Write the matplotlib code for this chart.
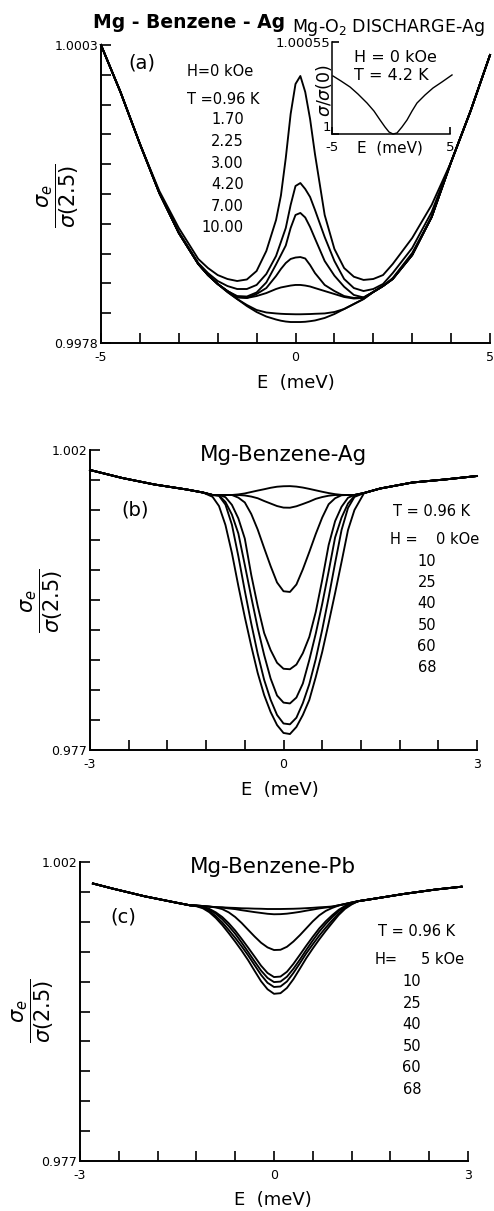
import numpy as np
import matplotlib
matplotlib.use("agg")
import matplotlib.pyplot as plt

plt.rcParams['font.family'] = ['DejaVu Sans']
plt.rcParams['mathtext.fontset'] = 'dejavusans'

W, H = 494, 1211

# ---------------- panel (a): Mg-Benzene-Ag, H = 0 kOe ----------------
a_temps = ["0.96", "1.70", "2.25", "3.00", "4.20", "7.00", "10.00"]
a_wing_left_E = [-5.0, -4.5, -4.0]
a_wing_left = [1.00030, 0.999906, 0.999470]
a_wing_right_E = [4.0, 4.5, 5.0]
a_wing_right = [0.999318, 0.999746, 1.000216]
a_E = [-3.5, -3, -2.5, -2.25, -2, -1.75, -1.5, -1.25, -1, -0.75, -0.5, -0.375,
       -0.25, -0.125, 0, 0.125, 0.25, 0.375, 0.5, 0.75, 1, 1.25, 1.5, 1.75,
       2, 2.25, 2.5, 3, 3.5]
a_t096 = [0.999075, 0.998765, 0.998505, 0.998429, 0.998370, 0.998337, 0.998320,
          0.998333, 0.998404, 0.998572, 0.998832, 0.999037, 0.999352, 0.999721,
          0.999973, 1.000040, 0.999906, 0.999679, 0.999386, 0.998874, 0.998589,
          0.998429, 0.998356, 0.998329, 0.998337, 0.998370, 0.998463, 0.998681,
          0.998958]
a_t170 = [0.999058, 0.998731, 0.998471, 0.998387, 0.998320, 0.998278, 0.998253,
          0.998253, 0.998287, 0.998379, 0.998530, 0.998647, 0.998765, 0.998958,
          0.999117, 0.999142, 0.999092, 0.999025, 0.998917, 0.998689, 0.998488,
          0.998337, 0.998261, 0.998236, 0.998253, 0.998295, 0.998387, 0.998597,
          0.998899]
a_t225 = [0.999058, 0.998723, 0.998463, 0.998370, 0.998295, 0.998236, 0.998194,
          0.998190, 0.998224, 0.998308, 0.998459, 0.998538, 0.998618, 0.998765,
          0.998874, 0.998891, 0.998853, 0.998773, 0.998677, 0.998488, 0.998365,
          0.998272, 0.998203, 0.998182, 0.998228, 0.998278, 0.998345, 0.998555,
          0.998857]
a_t300 = [0.999058, 0.998723, 0.998463, 0.998370, 0.998295, 0.998236, 0.998186,
          0.998178, 0.998211, 0.998261, 0.998362, 0.998421, 0.998471, 0.998505,
          0.998517, 0.998521, 0.998509, 0.998454, 0.998387, 0.998287, 0.998236,
          0.998194, 0.998178, 0.998182, 0.998228, 0.998278, 0.998337, 0.998538,
          0.998857]
a_t420 = [0.999058, 0.998723, 0.998463, 0.998370, 0.998295, 0.998236, 0.998182,
          0.998178, 0.998194, 0.998219, 0.998253, 0.998266, 0.998274, 0.998282,
          0.998287, 0.998287, 0.998282, 0.998274, 0.998261, 0.998236, 0.998211,
          0.998186, 0.998173, 0.998178, 0.998228, 0.998278, 0.998337, 0.998538,
          0.998857]
a_t700 = [0.999058, 0.998723, 0.998463, 0.998370, 0.998295, 0.998228, 0.998169,
          0.998119, 0.998077, 0.998056, 0.998048, 0.998045, 0.998043, 0.998042,
          0.998041, 0.998041, 0.998042, 0.998043, 0.998045, 0.998048, 0.998060,
          0.998085, 0.998127, 0.998169, 0.998228, 0.998278, 0.998337, 0.998538,
          0.998857]
a_t1000 = [0.999058, 0.998723, 0.998463, 0.998370, 0.998295, 0.998228, 0.998169,
           0.998110, 0.998060, 0.998022, 0.997997, 0.997987, 0.997980, 0.997976,
           0.997976, 0.997976, 0.997978, 0.997983, 0.997989, 0.998010, 0.998043,
           0.998085, 0.998127, 0.998169, 0.998228, 0.998278, 0.998337, 0.998538,
           0.998857]
a_curves = [a_t096, a_t170, a_t225, a_t300, a_t420, a_t700, a_t1000]

# inset: Mg-O2 discharge-Ag, H = 0 kOe, T = 4.2 K
in_E = [-4.92, -4.24, -3.47, -2.80, -2.03, -1.44, -0.93, -0.51, -0.17, 0.17,
        0.51, 0.93, 1.36, 1.78, 2.20, 2.88, 3.56, 4.32, 5.17]
in_sigma = [1.000347, 1.000317, 1.000281, 1.000239, 1.000185, 1.000137,
            1.000084, 1.000042, 1.000012, 1.000000, 1.000006, 1.000042,
            1.000084, 1.000137, 1.000185, 1.000233, 1.000275, 1.000311,
            1.000353]

# ---------------- panel (b): Mg-Benzene-Ag, T = 0.96 K ----------------
b_fields = ["0", "10", "25", "40", "50", "60", "68"]
b_wing_left_E = [-3.0, -2.5, -2.0, -1.5, -1.25]
b_wing_left = [1.000333, 0.999667, 0.999125, 0.998708, 0.998458]
b_wing_right_E = [1.25, 1.5, 2.0, 2.5, 3.0]
b_wing_right = [0.998417, 0.998792, 0.999292, 0.999542, 0.999833]
b_E = [-1.1, -1.0, -0.9, -0.8, -0.7, -0.6, -0.5, -0.4, -0.3, -0.2, -0.1, 0.0,
       0.1, 0.2, 0.3, 0.4, 0.5, 0.6, 0.7, 0.8, 0.9, 1.0, 1.1]
b_h0 = [0.99825, 0.99825, 0.99825, 0.99825, 0.99830, 0.99838, 0.99850, 0.99862,
        0.99873, 0.99885, 0.99894, 0.99898, 0.99899, 0.99895, 0.99887, 0.99876,
        0.99864, 0.99852, 0.99841, 0.99832, 0.99826, 0.99825, 0.99825]
b_h10 = [0.99825, 0.99825, 0.99825, 0.99825, 0.99825, 0.99821, 0.99812, 0.99798,
         0.99775, 0.99754, 0.99733, 0.99720, 0.99719, 0.99731, 0.99750, 0.99770,
         0.99793, 0.99808, 0.99819, 0.99825, 0.99825, 0.99825, 0.99825]
b_h25 = [0.99825, 0.99825, 0.99825, 0.99825, 0.99803, 0.99763, 0.99667, 0.99537,
         0.99383, 0.99233, 0.99096, 0.99023, 0.99017, 0.99079, 0.99206, 0.99350,
         0.99500, 0.99637, 0.99748, 0.99798, 0.99823, 0.99825, 0.99825]
b_h40 = [0.99825, 0.99825, 0.99807, 0.99743, 0.99630, 0.99462, 0.99159, 0.98900,
         0.98675, 0.98533, 0.98427, 0.98377, 0.98373, 0.98412, 0.98507, 0.98642,
         0.98850, 0.99117, 0.99408, 0.99607, 0.99727, 0.99802, 0.99825]
b_h50 = [0.99825, 0.99821, 0.99767, 0.99662, 0.99504, 0.99242, 0.98975, 0.98717,
         0.98492, 0.98296, 0.98154, 0.98095, 0.98088, 0.98137, 0.98254, 0.98450,
         0.98670, 0.98917, 0.99188, 0.99471, 0.99637, 0.99754, 0.99817]
b_h60 = [0.99825, 0.99818, 0.99745, 0.99578, 0.99315, 0.99027, 0.98754, 0.98502,
         0.98285, 0.98119, 0.97992, 0.97921, 0.97914, 0.97969, 0.98091, 0.98249,
         0.98457, 0.98702, 0.98971, 0.99258, 0.99533, 0.99717, 0.99809]
b_h68 = [0.99810, 0.99733, 0.99575, 0.99342, 0.99067, 0.98808, 0.98567, 0.98342,
         0.98158, 0.98017, 0.97908, 0.97842, 0.97833, 0.97892, 0.97992, 0.98117,
         0.98308, 0.98517, 0.98758, 0.99008, 0.99267, 0.99533, 0.99700]
b_curves = [b_h0, b_h10, b_h25, b_h40, b_h50, b_h60, b_h68]

# ---------------- panel (c): Mg-Benzene-Pb, T = 0.96 K ----------------
c_fields = ["5", "10", "25", "40", "50", "60", "68"]
c_wing_left_E = [-2.8, -2.5, -2.0, -1.5, -1.3]
c_wing_left = [1.000202, 0.999784, 0.999132, 0.998588, 0.998379]
c_wing_right_E = [1.3, 1.5, 2.0, 2.5, 2.9]
c_wing_right = [0.998722, 0.998889, 0.999324, 0.999700, 0.999934]
c_E = [-1.2, -1.1, -1.0, -0.9, -0.8, -0.7, -0.6, -0.5, -0.4, -0.3, -0.2, -0.1,
       0.0, 0.1, 0.2, 0.3, 0.4, 0.5, 0.6, 0.7, 0.8, 0.9, 1.0, 1.1, 1.2]
c_h5 = [0.99836, 0.99832, 0.99827, 0.99823, 0.99821, 0.99818, 0.99816, 0.99813,
        0.99812, 0.99810, 0.99809, 0.99807, 0.99807, 0.99807, 0.99808, 0.99809,
        0.99811, 0.99814, 0.99817, 0.99821, 0.99824, 0.99828, 0.99838, 0.99849,
        0.99861]
c_h10 = [0.99836, 0.99832, 0.99827, 0.99822, 0.99819, 0.99812, 0.99806, 0.99797,
         0.99789, 0.99781, 0.99774, 0.99767, 0.99763, 0.99764, 0.99768, 0.99775,
         0.99783, 0.99793, 0.99802, 0.99812, 0.99819, 0.99826, 0.99838, 0.99849,
         0.99861]
c_h25 = [0.99836, 0.99832, 0.99827, 0.99820, 0.99806, 0.99779, 0.99740, 0.99690,
         0.99633, 0.99577, 0.99525, 0.99486, 0.99464, 0.99466, 0.99491, 0.99535,
         0.99588, 0.99646, 0.99704, 0.99754, 0.99791, 0.99816, 0.99836, 0.99849,
         0.99861]
c_h40 = [0.99835, 0.99826, 0.99808, 0.99779, 0.99740, 0.99688, 0.99627, 0.99557,
         0.99484, 0.99409, 0.99333, 0.99272, 0.99238, 0.99242, 0.99282, 0.99348,
         0.99424, 0.99501, 0.99575, 0.99645, 0.99704, 0.99755, 0.99800, 0.99833,
         0.99856]
c_h50 = [0.99834, 0.99823, 0.99801, 0.99768, 0.99722, 0.99664, 0.99600, 0.99526,
         0.99448, 0.99369, 0.99292, 0.99231, 0.99196, 0.99200, 0.99241, 0.99307,
         0.99384, 0.99466, 0.99544, 0.99618, 0.99682, 0.99739, 0.99790, 0.99827,
         0.99854]
c_h60 = [0.99833, 0.99819, 0.99791, 0.99747, 0.99695, 0.99632, 0.99566, 0.99495,
         0.99419, 0.99337, 0.99256, 0.99190, 0.99155, 0.99159, 0.99201, 0.99272,
         0.99353, 0.99437, 0.99512, 0.99585, 0.99651, 0.99712, 0.99771, 0.99818,
         0.99850]
c_h68 = [0.99830, 0.99813, 0.99780, 0.99732, 0.99673, 0.99605, 0.99534, 0.99459,
         0.99379, 0.99290, 0.99203, 0.99136, 0.99098, 0.99103, 0.99147, 0.99220,
         0.99308, 0.99397, 0.99477, 0.99553, 0.99624, 0.99691, 0.99757, 0.99809,
         0.99845]
c_curves = [c_h5, c_h10, c_h25, c_h40, c_h50, c_h60, c_h68]


def fx(px):
    return px / W


def fy(py):
    return 1 - py / H


def add_axes(x0, y0, x1, y1):
    return fig.add_axes([fx(x0), fy(y1), (x1 - x0) / W, (y1 - y0) / H])


def style(ax, xlim, ylim, xticks, xlabels, yticks, ylabels, ticklen=7.2, size=9):
    ax.set_xlim(*xlim)
    ax.set_ylim(*ylim)
    ax.patch.set_alpha(0)
    for s in ('top', 'right'):
        ax.spines[s].set_visible(False)
    for s in ('left', 'bottom'):
        ax.spines[s].set_linewidth(1.4)
    ax.set_xticks(xticks)
    ax.set_xticklabels(xlabels)
    ax.set_yticks(yticks)
    ax.set_yticklabels(ylabels)
    ax.tick_params(direction='in', length=ticklen, width=1.2, labelsize=size)
    ax.tick_params(axis='x', pad=6)
    ax.tick_params(axis='y', pad=2)


def ends_only(n, first, last):
    return [first] + [''] * (n - 2) + [last]


fig = plt.figure(figsize=(W / 100, H / 100), dpi=100)
lw = 1.35

# ---- panel (a)
ax_a = add_axes(101, 45, 490, 343)
style(ax_a, (-5, 5), (0.9978, 1.0003),
      np.linspace(-5, 5, 11), ['-5', '', '', '', '', '0', '', '', '', '', '5'],
      np.linspace(0.9978, 1.0003, 11), ends_only(11, '0.9978', '1.0003'))
for curve in a_curves:
    ax_a.plot(a_wing_left_E + a_E + a_wing_right_E,
              a_wing_left + curve + a_wing_right,
              color='black', lw=lw, clip_on=False)

fig.text(fx(189), fy(22), 'Mg - Benzene - Ag', ha='center', va='center',
         fontsize=13.5, fontweight='bold')
fig.text(fx(142), fy(63), '(a)', ha='center', va='center', fontsize=14)
fig.text(fx(187), fy(72), 'H=0 kOe', ha='left', va='center', fontsize=10.5)
fig.text(fx(187), fy(99), 'T =%s K' % a_temps[0], ha='left', va='center', fontsize=10.5)
for i, t in enumerate(a_temps[1:]):
    fig.text(fx(244), fy(120 + 21.6 * i), t, ha='right', va='center', fontsize=10.5)
fig.text(fx(296), fy(383), 'E  (meV)', ha='center', va='center', fontsize=13)
fig.text(fx(58), fy(196), r'$\dfrac{\sigma_e}{\sigma(2.5)}$', rotation=90,
         ha='center', va='center', fontsize=15)

# inset
ax_in = add_axes(332, 42, 450, 134)
style(ax_in, (-5, 5), (1.0, 1.00055), [-5, 5], ['-5', '5'],
      [1.0, 1.00055], ['1', '1.00055'], ticklen=5, size=9.5)
ax_in.tick_params(axis='x', pad=5)
ax_in.tick_params(axis='y', pad=1)
ax_in.get_yticklabels()[0].set_verticalalignment('bottom')
ax_in.spines['left'].set_linewidth(1.1)
ax_in.spines['bottom'].set_linewidth(1.1)
ax_in.plot(in_E, in_sigma, color='black', lw=1.0, clip_on=False)
fig.text(fx(388), fy(27), 'Mg-O$_2$ DISCHARGE-Ag', ha='center', va='center', fontsize=12.5)
fig.text(fx(354), fy(57), 'H = 0 kOe', ha='left', va='center', fontsize=11.5)
fig.text(fx(354), fy(75), 'T = 4.2 K', ha='left', va='center', fontsize=11.5)
fig.text(fx(390), fy(148), 'E  (meV)', ha='center', va='center', fontsize=11)
fig.text(fx(324), fy(91), r'$\sigma/\sigma(0)$', rotation=90,
         ha='center', va='center', fontsize=12.5)

# ---- panel (b)
ax_b = add_axes(90, 450, 477, 750)
style(ax_b, (-3, 3), (0.977, 1.002),
      np.linspace(-3, 3, 11), ['-3', '', '', '', '', '0', '', '', '', '', '3'],
      np.linspace(0.977, 1.002, 11), ends_only(11, '0.977', '1.002'))
for curve in b_curves:
    ax_b.plot(b_wing_left_E + b_E + b_wing_right_E,
              b_wing_left + curve + b_wing_right,
              color='black', lw=lw, clip_on=False)

fig.text(fx(284), fy(455), 'Mg-Benzene-Ag', ha='center', va='center', fontsize=15.5)
fig.text(fx(135), fy(510), '(b)', ha='center', va='center', fontsize=14)
fig.text(fx(393), fy(511), 'T = 0.96 K', ha='left', va='center', fontsize=10.5)
fig.text(fx(390), fy(540), 'H =', ha='left', va='center', fontsize=10.5)
fig.text(fx(436), fy(540), '%s kOe' % b_fields[0], ha='left', va='center', fontsize=10.5)
for i, h in enumerate(b_fields[1:]):
    fig.text(fx(436), fy(561 + 21.4 * i), h, ha='right', va='center', fontsize=10.5)
fig.text(fx(280), fy(790), 'E  (meV)', ha='center', va='center', fontsize=13)
fig.text(fx(42), fy(601), r'$\dfrac{\sigma_e}{\sigma(2.5)}$', rotation=90,
         ha='center', va='center', fontsize=15)

# ---- panel (c)
ax_c = add_axes(80, 862, 468, 1161)
style(ax_c, (-3, 3), (0.977, 1.002),
      np.linspace(-3, 3, 11), ['-3', '', '', '', '', '0', '', '', '', '', '3'],
      np.linspace(0.977, 1.002, 11), ends_only(11, '0.977', '1.002'))
for curve in c_curves:
    ax_c.plot(c_wing_left_E + c_E + c_wing_right_E,
              c_wing_left + curve + c_wing_right,
              color='black', lw=lw, clip_on=False)

fig.text(fx(273), fy(867), 'Mg-Benzene-Pb', ha='center', va='center', fontsize=15.5)
fig.text(fx(123), fy(917), '(c)', ha='center', va='center', fontsize=14)
fig.text(fx(378), fy(932), 'T = 0.96 K', ha='left', va='center', fontsize=10.5)
fig.text(fx(375), fy(960), 'H=', ha='left', va='center', fontsize=10.5)
fig.text(fx(421), fy(960), '%s kOe' % c_fields[0], ha='left', va='center', fontsize=10.5)
for i, h in enumerate(c_fields[1:]):
    fig.text(fx(421), fy(982 + 21.4 * i), h, ha='right', va='center', fontsize=10.5)
fig.text(fx(273), fy(1200), 'E  (meV)', ha='center', va='center', fontsize=13)
fig.text(fx(33), fy(1011), r'$\dfrac{\sigma_e}{\sigma(2.5)}$', rotation=90,
         ha='center', va='center', fontsize=15)

fig.savefig('out.png', dpi=100)
